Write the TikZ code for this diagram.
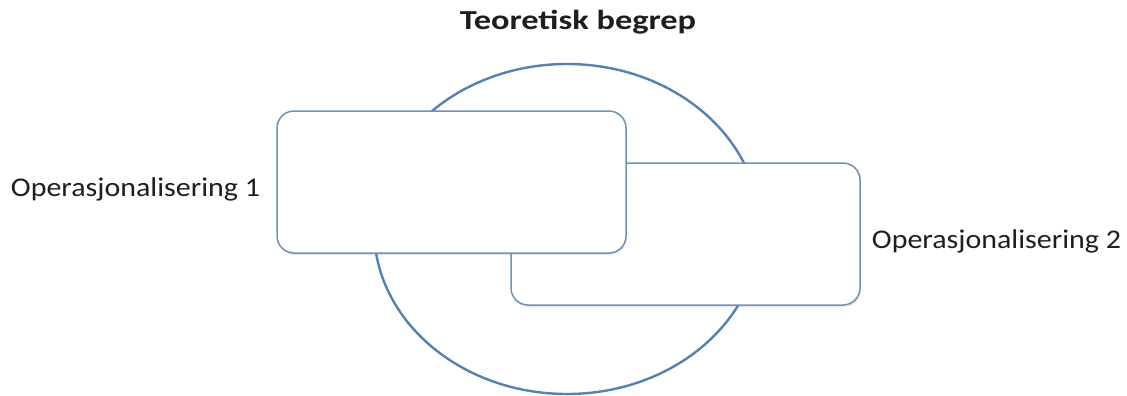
\documentclass[tikz,border=0pt]{standalone}
\usepackage{fontspec}
\setmainfont{Carlito}
\usetikzlibrary{shadows}
\definecolor{ringblue}{RGB}{84,128,184}
\definecolor{boxblue}{RGB}{110,145,192}
\definecolor{txt}{RGB}{30,30,30}
\tikzset{
  ring/.style={draw=ringblue, line width=2.4pt},
  opbox/.style={draw=boxblue, line width=1.5pt, fill=white, rounded corners=17pt,
    drop shadow={opacity=0.18, shadow xshift=1pt, shadow yshift=-2pt}},
  lbl/.style={font=\fontsize{27}{32}\selectfont, text=txt, inner sep=0pt, anchor=base, xscale=1.11},
  ttl/.style={font=\fontsize{27.5}{32}\selectfont\bfseries, text=txt, inner sep=0pt, anchor=base, xscale=1.25}
}
\begin{document}
\begin{tikzpicture}[x=1pt,y=1pt]
\useasboundingbox (0,0) rectangle (1127,-396);
\draw[ring] (567,-229) ellipse [x radius=193, y radius=165];
\draw[opbox] (511,-163) rectangle (860,-305);
\draw[opbox] (277,-111) rectangle (626,-253);
\node[ttl] (title) at (578,-30) {Teoretisk begrep};
\node[lbl] (op1) at (135.5,-196.5) {Operasjonalisering 1};
\node[lbl] (op2) at (996.5,-248) {Operasjonalisering 2};
\end{tikzpicture}
\end{document}
